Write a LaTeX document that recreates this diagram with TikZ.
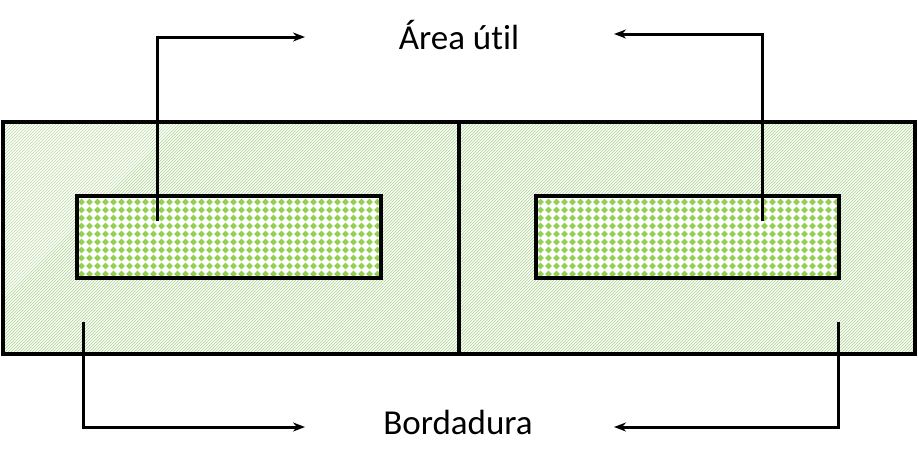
\documentclass[tikz,border=0pt]{standalone}
\usepackage{fontspec}
\setmainfont[Ligatures=NoCommon]{Carlito}
\usetikzlibrary{arrows.meta}
\definecolor{stripe}{HTML}{B5D89C}
\definecolor{dots}{HTML}{92D050}
\tikzset{
  stripeline/.style={draw=stripe,line width=0.7pt},
  dia/.style={fill=dots},
  frame/.style={draw=black,line width=4.6pt},
  conn/.style={line width=3pt,-{Stealth[length=12pt,width=9pt]}},
  lbl/.style={font=\fontsize{35}{40}\selectfont,inner sep=0pt}
}
\begin{document}
\begin{tikzpicture}[x=1pt,y=-1pt]
\useasboundingbox (0,0) rectangle (918,466);
\fill[white] (0,0) rectangle (918,466);
\begin{scope}
  \clip (3,122) rectangle (915,354);
  \foreach \i in {0,3,...,1150} {
    \draw[stripeline] (\i,120) -- (\i-240,360);
  }
\end{scope}
\fill[white] (77,196) rectangle (381,278);
\fill[white] (536,196) rectangle (839,278);
\foreach \ox in {77,536} {
  \begin{scope}
    \clip (\ox,196) rectangle (\ox+303,278);
    \foreach \cx in {4.5,12.5,...,304} {
      \foreach \cy in {6,14,...,86} {
        \path[dia] (\ox+\cx,196+\cy-3.3) -- (\ox+\cx+3.3,196+\cy) -- (\ox+\cx,196+\cy+3.3) -- (\ox+\cx-3.3,196+\cy) -- cycle;
      }
    }
  \end{scope}
}
\path[frame] (3,122) rectangle (459,354);
\path[frame] (459,122) rectangle (915,354);
\path[frame] (77,196) rectangle (381,278);
\path[frame] (536,196) rectangle (839,278);
\node[lbl] (area) at (459,35) {Área útil};
\node[lbl] (bord) at (458,422) {Bordadura};
\coordinate (a1) at (157,221);
\coordinate (a1e) at (305,37);
\coordinate (a2) at (762,221);
\coordinate (a2e) at (614,34);
\coordinate (b1) at (83,322);
\coordinate (b1e) at (305,427);
\coordinate (b2) at (838,322);
\coordinate (b2e) at (614,427);
\draw[conn] (a1) |- (a1e);
\draw[conn] (a2) |- (a2e);
\draw[conn] (b1) |- (b1e);
\draw[conn] (b2) |- (b2e);
\end{tikzpicture}
\end{document}
